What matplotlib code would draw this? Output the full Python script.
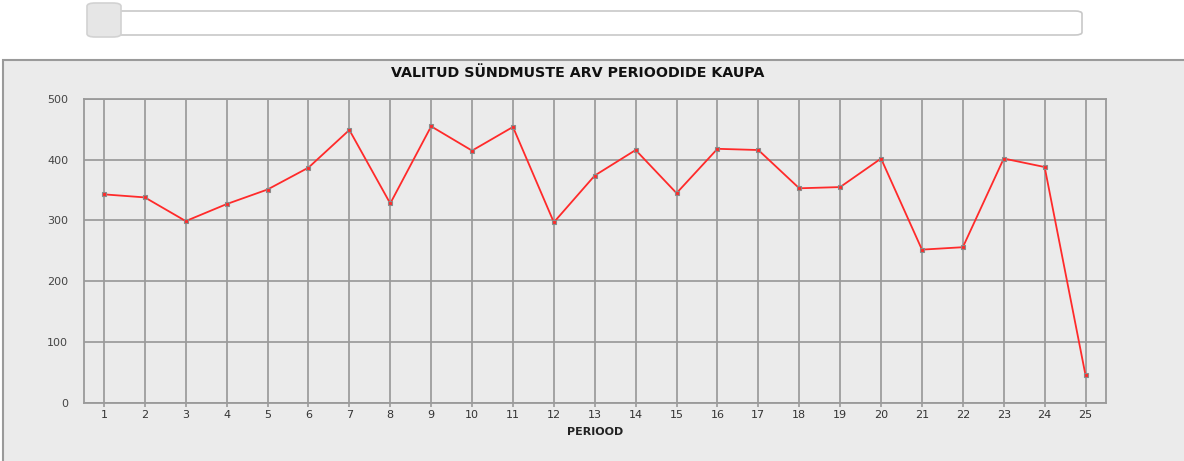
import matplotlib
matplotlib.use("Agg")
import matplotlib.pyplot as plt
from matplotlib.patches import FancyBboxPatch, Rectangle

# events per period
periods = list(range(1, 26))
counts = [343, 338, 299, 327, 351, 387, 449, 328, 455, 415,
          454, 297, 374, 416, 345, 418, 416, 353, 355, 402,
          252, 256, 402, 388, 45]
yticks = [0, 100, 200, 300, 400, 500]

W, H = 1184, 461
fig = plt.figure(figsize=(W / 100, H / 100), dpi=100)
fig.patch.set_facecolor("white")

def fx(px):
    return px / W

def fy(py):
    return 1 - py / H

# panel behind the chart
fig.patches.append(Rectangle((fx(3), fy(H + 5)), fx(W + 10), (H - 60 + 5) / H,
                             transform=fig.transFigure, facecolor="#ebebeb",
                             edgecolor="#9a9a9a", linewidth=1.5, zorder=-3))

# slider on top
fig.patches.append(FancyBboxPatch((fx(90), fy(35)), fx(992), 24 / H,
                                  boxstyle="round,pad=0,rounding_size=0.006",
                                  transform=fig.transFigure, facecolor="white",
                                  edgecolor="#c8c8c8", linewidth=1.2, zorder=-2))
fig.patches.append(FancyBboxPatch((fx(87), fy(37)), fx(34), 34 / H,
                                  boxstyle="round,pad=0,rounding_size=0.007",
                                  transform=fig.transFigure, facecolor="#e6e6e6",
                                  edgecolor="#d2d2d2", linewidth=1.2, zorder=-1))

ax = fig.add_axes([fx(83.5), fy(402.7), fx(1106 - 83.5), (402.7 - 99) / H])
ax.set_zorder(1)
ax.set_facecolor("#ebebeb")
ax.plot(periods, counts, color="#ff2a2a", linewidth=1.3, zorder=3,
        marker="s", markersize=3.5, markerfacecolor="#ff2a2a",
        markeredgecolor="#8a8a8a", markeredgewidth=0.8)

ax.set_xlim(0.5, 25.5)
ax.set_ylim(0, 500)
ax.set_xticks(periods)
ax.set_yticks(yticks)
ax.grid(True, color="#9a9a9a", linewidth=1.25)
ax.set_axisbelow(True)
for s in ax.spines.values():
    s.set_color("#9a9a9a")
    s.set_linewidth(1.3)
ax.tick_params(axis="x", length=3, width=1.2, color="#9a9a9a", labelsize=8,
               labelcolor="#333333", pad=2)
ax.tick_params(axis="y", length=0, labelsize=8, labelcolor="#444444", pad=11)

ax.set_xlabel("PERIOOD", fontsize=8, fontweight="bold", color="#222222", labelpad=5)
fig.text(fx(578), fy(73), "VALITUD SÜNDMUSTE ARV PERIOODIDE KAUPA",
         ha="center", va="center", fontsize=10.3, fontweight="bold", color="#111111")

fig.savefig("out.png", dpi=100, facecolor=fig.get_facecolor())
